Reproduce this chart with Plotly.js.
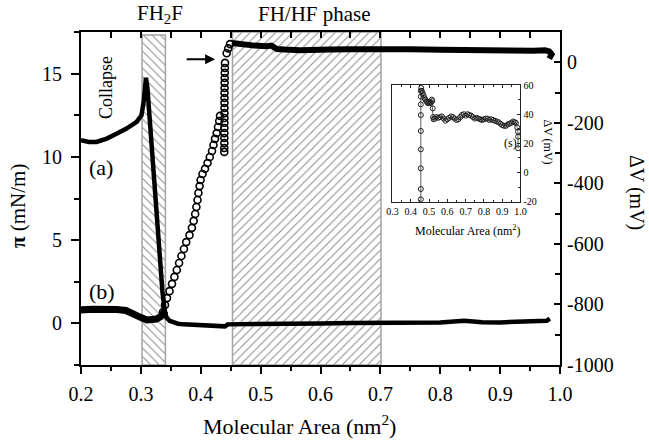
<!DOCTYPE html>
<html>
<head>
<meta charset="utf-8">
<script src="https://cdn.plot.ly/plotly-3.0.1.min.js"></script>
<style>html,body{margin:0;padding:0;background:#fff;}#chart{width:649px;height:443px;}</style>
</head>
<body>
<div id="chart"></div>
<script>
// ---- Data ----
// (a) surface pressure pi (mN/m) vs molecular area (nm^2)
const piX = [0.200,0.213,0.226,0.243,0.260,0.276,0.293,0.301,0.305,0.3085,0.311,0.316,0.323,0.330,0.336,0.340,0.343,0.348,0.354,0.362,0.371,0.390,0.410,0.438,0.4405,0.445,0.480,0.516,0.550,0.600,0.650,0.700,0.750,0.800,0.840,0.870,0.900,0.950,0.978,0.983];
const piY = [11.0,10.9,10.9,11.1,11.4,11.7,12.1,12.5,13.4,14.75,14.1,11.6,8.3,4.9,1.9,0.7,0.35,0.15,0.05,-0.02,-0.06,-0.10,-0.12,-0.15,-0.18,-0.06,-0.06,-0.05,-0.02,0.00,0.02,0.03,0.02,0.05,0.15,0.07,0.06,0.10,0.16,0.28];

// (b) surface potential dV (mV), dense part at large areas
const dvHiX = [0.982,0.985,0.986,0.982,0.975,0.955,0.900,0.844,0.800,0.750,0.700,0.650,0.616,0.600,0.566,0.540,0.527,0.518,0.510,0.490,0.470,0.460,0.452];
const dvHiY = [12,18,26,36,40,38,38,40,41,43,45,43,42,40,40,42,44,55,53,55,58,61,64];
// dV, sparse (open circles) part during the steep change
const dvMidX = [0.4489,0.446,0.4433,0.4405,0.4403,0.4401,0.4400,0.4399,0.4398,0.4397,0.4397,0.4396,0.4396,0.4396,0.4396,0.4395,0.4395,0.4394,0.4394,0.4394,0.4393,0.4393,
  0.4322,0.4308,0.4288,0.4266,0.4238,0.4213,0.4188,0.4151,0.4113,0.4071,0.4029,0.3997,0.3981,0.3961,0.3946,0.3927,0.3907,0.3882,0.3852,0.3812,0.3757,0.3719,0.3677,0.3638,0.3600,0.3560,0.3520,0.3478,0.3436,0.3403,0.3370];
const dvMidY = [60,46,30,-2,-19,-35,-52,-68,-85,-101,-118,-134,-151,-168,-184,-200,-217,-234,-250,-267,-283,-296,
  -177,-194,-214,-234,-253,-273,-293,-313,-333,-352,-369,-389,-409,-432,-455,-478,-501,-524,-547,-571,-594,-617,-640,-663,-686,-709,-732,-756,-779,-802,-825];
// dV, dense part at small areas
const dvLoX = [0.341,0.338,0.333,0.326,0.318,0.310,0.303,0.295,0.285,0.275,0.260,0.240,0.220,0.199];
const dvLoY = [-820,-830,-840,-848,-852,-851,-846,-838,-828,-820,-817,-815,-816,-818];

// Inset: dV (mV) vs molecular area (nm^2)
const insX = [0.987,0.987,0.986,0.982,0.975,0.968,0.960,0.950,0.940,0.930,0.920,0.910,0.900,0.890,0.880,0.870,0.860,0.850,0.840,0.830,0.820,0.810,0.800,0.790,0.780,0.770,0.760,0.750,0.740,0.730,0.720,0.710,0.700,0.690,0.680,0.670,0.660,0.650,0.640,0.630,0.620,0.610,0.600,0.590,0.580,0.570,0.560,0.550,0.540,0.530,0.525,0.522,0.520,0.518,0.515,0.510,0.505,0.500,0.495,0.490,0.485,0.480,0.475,0.470,0.465,0.460,0.457,0.455,0.455,0.455,0.455,0.455,0.455,0.455,0.455,0.455,0.455];
const insY = [16.6,24.6,28,31,34,34.5,35,34,33.5,33,32,32,32.5,33.5,34.5,35,35.5,36,36.5,36,37,37,36.5,36,36.5,37,37.5,37,38,39,39.5,40,39,40,39.5,38,36.5,36,37,38,38.5,37.5,36.5,35.5,37,38.5,38,37.5,38,37,36.5,38,44,49,50,48,47.5,48.5,47.5,48,49,50,51,53,54.5,56,58,56,52,46.7,39.4,28.5,15.9,2.9,-11.3,-18.4,-60];

// Shaded phase regions
const bandNames = ['FH2F','FH/HF phase'];
const bandLeft = [0.302,0.453];
const bandRight = [0.341,0.701];
const bandTop = [17.32,17.5];
const bandBottom = -2.5;

// Arrow (tail -> head), in data units
const arrowX = [0.374,0.424];
const arrowY = [15.86,15.86];

// Tick labels
const dvTickVals = [-1000,-800,-600,-400,-200,0];
const dvTickText = ['-1000','-800','-600','-400','-200','0'];
const insTickVals = [-20,0,20,40,60];
const insTickText = ['-20','0','20','40','60'];

// ---- Traces ----
const FONT = 'Liberation Serif, Times New Roman, serif';
const bands = {
  type:'bar', x: bandLeft.map((l,i)=>(l+bandRight[i])/2),
  width: bandLeft.map((l,i)=>bandRight[i]-l),
  base: bandLeft.map(()=>bandBottom),
  y: bandTop.map(t=>t-bandBottom),
  text: bandNames, textposition:'none',
  xaxis:'x', yaxis:'y', hoverinfo:'skip',
  marker:{color:'white', line:{color:'#a3a3a3', width:1.5},
    pattern:{shape:['\\','/'], size:6, solidity:0.16, fgcolor:'#8a8a8a', bgcolor:'white'}}
};
const piTrace = {type:'scatter', mode:'lines', x:piX, y:piY, xaxis:'x', yaxis:'y',
  line:{color:'black', width:4.5}};
const dvHi = {type:'scatter', mode:'lines', x:dvHiX, y:dvHiY, xaxis:'x', yaxis:'y2',
  line:{color:'black', width:6}};
const dvLo = {type:'scatter', mode:'lines', x:dvLoX, y:dvLoY, xaxis:'x', yaxis:'y2',
  line:{color:'black', width:7}};
const dvMid = {type:'scatter', mode:'markers', x:dvMidX, y:dvMidY, xaxis:'x', yaxis:'y2',
  marker:{symbol:'circle-open', size:7, color:'black', line:{width:1.6}}};
const topDummy = {type:'scatter', mode:'markers', x:[], y:[], xaxis:'x4', yaxis:'y'};
const inset = {type:'scatter', mode:'lines+markers', x:insX, y:insY, xaxis:'x3', yaxis:'y3',
  line:{color:'#333', width:0.8},
  marker:{symbol:'circle-open', size:5, color:'#222', line:{width:1}}};

const axBase = {showgrid:false, zeroline:false, showline:true, linecolor:'black', linewidth:2, tickcolor:'black', tickwidth:2};

function note(text, x, y, size, angle) {
  return {text:text, xref:'paper', yref:'paper', x:x, y:y, xanchor:'center', yanchor:'middle',
    textangle:angle || 0, showarrow:false, font:{family:FONT, size:size, color:'black'}};
}

const layout = {
  width:649, height:443,
  margin:{l:81, r:89, t:32, b:78, pad:0},
  paper_bgcolor:'white', plot_bgcolor:'white',
  showlegend:false, barmode:'overlay',
  font:{family:FONT, size:20, color:'black'},
  xaxis:Object.assign({}, axBase, {range:[0.2,1.0], tick0:0.2, dtick:0.1, tickformat:'.1f',
    ticks:'outside', ticklen:7, ticklabelstandoff:3,
    minor:{dtick:0.05, ticks:'outside', ticklen:4, tickwidth:2, tickcolor:'black'},
    tickfont:{family:FONT, size:20}}),
  xaxis4:Object.assign({}, axBase, {overlaying:'x', side:'top', anchor:'y', range:[0.2,1.0],
    tick0:0.2, dtick:0.05, ticks:'inside', ticklen:6, showticklabels:false}),
  yaxis:Object.assign({}, axBase, {range:[-2.5,17.5], tick0:0, dtick:5, ticks:'outside', ticklen:8,
    ticklabelstandoff:5,
    minor:{dtick:2.5, ticks:'outside', ticklen:5, tickwidth:2, tickcolor:'black'},
    tickfont:{family:FONT, size:20}}),
  yaxis2:Object.assign({}, axBase, {overlaying:'y', side:'right', anchor:'x', range:[-1000,100],
    tickmode:'array', tickvals:dvTickVals, ticktext:dvTickText, ticks:'inside', ticklen:6,
    ticklabelstandoff:1,
    minor:{tick0:0, dtick:100, ticks:'inside', ticklen:5, tickwidth:2, tickcolor:'black'},
    tickfont:{family:FONT, size:20}}),
  xaxis3:{domain:[0.6503,0.9175], anchor:'y3', range:[0.3,1.0], tick0:0.3, dtick:0.1, tickformat:'.1f',
    showgrid:false, zeroline:false, showline:true, linecolor:'#222', linewidth:1, mirror:'ticks',
    ticks:'inside', ticklen:3, tickwidth:1, tickcolor:'#222',
    minor:{dtick:0.05, ticks:'inside', ticklen:2, tickwidth:1, tickcolor:'#222'},
    tickfont:{family:FONT, size:10}},
  yaxis3:{domain:[0.4904,0.8408], anchor:'x3', side:'right', range:[-20,60],
    tickmode:'array', tickvals:insTickVals, ticktext:insTickText,
    showgrid:false, zeroline:false, showline:true, linecolor:'#222', linewidth:1, mirror:true,
    ticks:'inside', ticklen:3, tickwidth:1, tickcolor:'#222',
    minor:{tick0:0, dtick:10, ticks:'inside', ticklen:2, tickwidth:1, tickcolor:'#222'},
    tickfont:{family:FONT, size:10}},
  annotations:[
    note('FH<sub>2</sub>F', 0.1649, 1.054, 21),
    note('FH/HF phase', 0.4885, 1.054, 21),
    note('Collapse', 0.0522, 0.8318, 18, -90),
    note('(a)', 0.0418, 0.5916, 22),
    note('(b)', 0.0438, 0.2222, 22),
    note('<b>π</b> (mN/m)', -0.1315, 0.4775, 21, -90),
    note('ΔV (mV)', 1.1608, 0.5195, 20, 90),
    note('Molecular Area (nm<sup>2</sup>)', 0.457, -0.180, 22),
    note('Molecular Area (nm<sup>2</sup>)', 0.807, 0.405, 12),
    note('ΔV (mV)', 0.974, 0.6697, 12, 90),
    {text:'(s)', xref:'x3', yref:'y3', x:0.943, y:20.2, xanchor:'center', yanchor:'middle', showarrow:false, font:{family:FONT, size:12}},
    {text:'', xref:'x', yref:'y', x:arrowX[1], y:arrowY[1], axref:'x', ayref:'y', ax:arrowX[0], ay:arrowY[0],
      showarrow:true, arrowhead:2, arrowsize:1, arrowwidth:2, arrowcolor:'black'}
  ]
};

Plotly.newPlot('chart', [bands, piTrace, topDummy, dvHi, dvLo, dvMid, inset], layout, {displayModeBar:false, staticPlot:true});
</script>
</body>
</html>
